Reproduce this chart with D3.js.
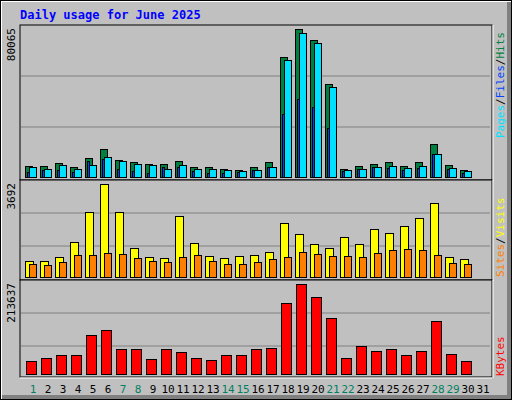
<!DOCTYPE html>
<html>
<head>
<meta charset="utf-8">
<script src="https://cdn.jsdelivr.net/npm/d3@7"></script>
<style>
  body { margin: 0; background: #fff; }
  text { font-family: "DejaVu Sans Mono", monospace; }
</style>
</head>
<body>
<div id="chart"></div>
<script>
// values, day 1..30 (day 31 has no data)
const days = d3.range(1, 32)
const weekendDays = [1, 7, 8, 14, 15, 21, 22, 28, 29]
const hits = [5800, 5800, 7400, 5250, 10140, 15030, 9060, 7970, 6880, 6880, 8510, 5250, 5250, 4170, 3620,
  5250, 7970, 65000, 80065, 74250, 50350, 4170, 5800, 6880, 7970, 5800, 7970, 17750, 6340, 3620]
const files = [2535, 3620, 3620, 2535, 8510, 9600, 4170, 3080, 1990, 5250, 5250, 3080, 1990, 1990, 2535,
  3620, 5250, 34050, 42200, 37850, 26440, 3080, 4170, 5250, 4710, 3620, 4710, 12310, 4170, 1990]
const pages = [5250, 4170, 6340, 4170, 6340, 10690, 8510, 6880, 6340, 4170, 6340, 4170, 4170, 3620, 3080,
  3620, 5250, 63390, 78060, 72620, 48720, 3620, 4170, 5250, 5800, 4710, 5800, 12310, 4710, 3080]
const visits = [642, 642, 803, 1405, 2569, 3692, 2569, 1164, 803, 763, 2408, 1365, 843, 763, 843,
  883, 1004, 2127, 1726, 1325, 1164, 1606, 1325, 1887, 1766, 2007, 2328, 2930, 803, 722]
const sites = [522, 482, 602, 883, 883, 963, 923, 763, 642, 602, 803, 883, 642, 522, 522,
  602, 722, 803, 1004, 923, 843, 843, 803, 963, 1084, 1124, 1084, 883, 562, 522]
const kbytes = [30520, 37560, 44610, 44610, 91560, 103300, 58700, 58700, 35220, 58700, 51650, 37560, 32870, 44610, 44610,
  58700, 61040, 169040, 213637, 183130, 133820, 37560, 65740, 54000, 58700, 44610, 54000, 126780, 46960, 30520]

const W = 512, H = 400
const svg = d3.select("#chart").append("svg").attr("width", W).attr("height", H)

// frame
svg.append("rect").attr("width", W).attr("height", H).attr("fill", "#000")
svg.append("rect").attr("x", 1).attr("y", 1).attr("width", W - 2).attr("height", H - 2).attr("fill", "#fff")
svg.append("rect").attr("x", 2).attr("y", 2).attr("width", W - 3).attr("height", H - 3).attr("fill", "#808080")
svg.append("rect").attr("x", 2).attr("y", 2).attr("width", W - 7).attr("height", H - 7).attr("fill", "#c0c0c0")

svg.append("text").attr("x", 20).attr("y", 19).attr("fill", "#0000ff")
  .attr("font-size", 12).attr("font-weight", "bold").text("Daily usage for June 2025")

const x = d3.scaleLinear().domain([1, 2]).range([25, 40])

function panel(y0, y1, max, grid) {
  svg.append("rect").attr("x", 20).attr("y", y0).attr("width", 472).attr("height", y1 - y0)
    .attr("fill", "#c0c0c0").attr("stroke", "#000")
  svg.append("line").attr("x1", 20).attr("x2", 492).attr("y1", y1 + 1).attr("y2", y1 + 1).attr("stroke", "#fff")
  svg.append("line").attr("x1", 493).attr("x2", 493).attr("y1", y0).attr("y2", y1 + 1).attr("stroke", "#fff")
  svg.selectAll(null).data(grid).join("line")
    .attr("x1", 21).attr("x2", 490).attr("y1", d => d).attr("y2", d => d).attr("stroke", "#808080")
  return d3.scaleLinear().domain([0, max]).range([y1 - 3, y0 + 4])
}

function bars(vals, y, dx, w, color) {
  svg.append("g").selectAll("rect").data(vals).join("rect")
    .attr("x", (d, i) => x(i + 1) + dx + 0.5)
    .attr("y", d => Math.round(y(d)) + 0.5)
    .attr("width", w)
    .attr("height", d => y(0) - Math.round(y(d)))
    .attr("fill", color).attr("stroke", "#000")
}

function axisLabel(y0, txt) {
  svg.append("text").attr("transform", `translate(15,${y0}) rotate(-90)`)
    .attr("text-anchor", "end").attr("font-size", 11).attr("fill", "#000").text(txt)
}

function sideLabel(yBottom, parts) {
  const t = svg.append("text").attr("transform", `translate(504,${yBottom}) rotate(-90)`)
    .attr("font-size", 11)
  parts.forEach(([s, c]) => t.append("tspan").attr("fill", c).text(s))
}

// hits / files / pages
const y1 = panel(25, 180, 80065, [76, 127])
bars(hits, y1, 0, 7, "#008040")
bars(pages, y1, 4, 7, "#00e0ff")
bars(files, y1, 2, 2, "#0040ff")
axisLabel(28, d3.max(hits))
sideLabel(138, [["Pages", "#00e0ff"], ["/", "#000"], ["Files", "#0040ff"], ["/", "#000"], ["Hits", "#008040"]])

// visits / sites
const y2 = panel(180, 280, 3692, [213, 246])
bars(visits, y2, 0, 8, "#ffff00")
bars(sites, y2, 4, 7, "#ff8000")
axisLabel(183, d3.max(visits))
sideLabel(277, [["Sites", "#ff8000"], ["/", "#000"], ["Visits", "#ffff00"]])

// kbytes
const y3 = panel(280, 377, 213637, [313, 346])
bars(kbytes, y3, 1, 10, "#ff0000")
axisLabel(283, d3.max(kbytes))
sideLabel(376, [["KBytes", "#ff0000"]])

svg.append("g").selectAll("text").data(days).join("text")
  .attr("x", d => x(d) + 8).attr("y", 393).attr("text-anchor", "middle").attr("font-size", 11)
  .attr("fill", d => weekendDays.includes(d) ? "#008060" : "#000")
  .text(d => d)
</script>
</body>
</html>
